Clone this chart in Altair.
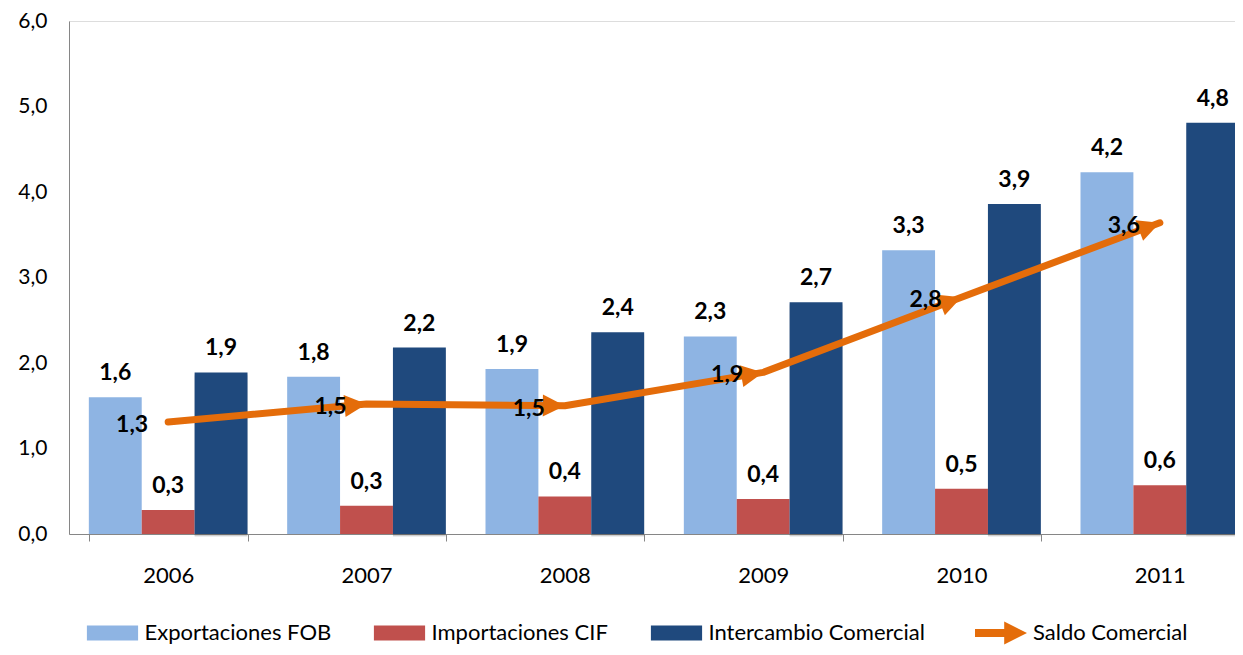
import math
import altair as alt
import pandas as pd

# ---------------- data ----------------
years = ["2006", "2007", "2008", "2009", "2010", "2011"]
exportaciones = [1.60, 1.84, 1.93, 2.31, 3.32, 4.23]
importaciones = [0.28, 0.33, 0.44, 0.41, 0.53, 0.57]
intercambio = [1.89, 2.18, 2.36, 2.71, 3.86, 4.81]
saldo = [1.31, 1.52, 1.50, 1.89, 2.77, 3.64]
bar_series = ["Exportaciones FOB", "Importaciones CIF", "Intercambio Comercial"]
line_series = "Saldo Comercial"
y_ticks = [0, 1, 2, 3, 4, 5, 6]

# ---------------- style ----------------
VIEW_W, H = 1166, 513          # visible plot area (page is clipped on the right)
X_SPAN = 1190                  # full category axis length (runs past the page edge)
PAD = {"left": 61, "top": 13, "right": 0, "bottom": 113}
Y_MAX = 6
FONT = "Lato"
BAR_COLORS = ["#8EB4E3", "#C0504D", "#1F497D"]
ORANGE = "#E46C0A"
AXIS_GRAY = "#868686"
HEAD_PATH = "M-2,-1L0,0L-2,1Z"        # arrow head, tip at the data point
ARROW_PATH = "M-3.25,-0.5L0.4,-0.5L0.4,-1.45L3.25,0L0.4,1.45L0.4,0.5L-3.25,0.5Z"
SWATCH_PATH = "M-3.2,-0.94H3.2V0.94H-3.2Z"
LABEL_EXPR = "replace(format(datum.value, '.1f'), '.', ',')"
LEGEND_Y = 601

bars_df = pd.DataFrame(
    [
        {"year": y, "series": s, "value": v}
        for s, vals in zip(bar_series, [exportaciones, importaciones, intercambio])
        for y, v in zip(years, vals)
    ]
)

step_px = X_SPAN / len(years)
unit_px = H / Y_MAX
angles, heads = [], []
for i, v in enumerate(saldo):
    if i == 0:
        angles.append(0.0)
        heads.append(False)
    else:
        a = math.degrees(math.atan2(-(v - saldo[i - 1]) * unit_px, step_px))
        angles.append((a + 360) % 360)
        heads.append(True)
line_df = pd.DataFrame(
    {"year": years, "value": saldo, "angle": angles, "head": heads,
     "series": [line_series] * len(years)}
)

# ---------------- encodings ----------------
y_enc = alt.Y(
    "value:Q",
    scale=alt.Scale(domain=[0, Y_MAX], nice=False),
    axis=alt.Axis(
        title=None, values=y_ticks, labelExpr=LABEL_EXPR, grid=False, ticks=False,
        domainColor=AXIS_GRAY, domainWidth=1, labelFont=FONT, labelFontSize=21,
        labelColor="#000000", labelPadding=22,
    ),
)
x_band = alt.X(
    "year:N", sort=years,
    scale=alt.Scale(paddingInner=0.2, paddingOuter=0.1, range=[0, X_SPAN]),
    axis=alt.Axis(
        title=None, labelAngle=0, tickBand="extent", tickSize=7, tickColor=AXIS_GRAY,
        domainColor=AXIS_GRAY, labelFont=FONT, labelFontSize=22, labelColor="#000000",
        labelPadding=24,
    ),
)
x_off = alt.XOffset("series:N", scale=alt.Scale(domain=bar_series))

base_bars = alt.Chart(bars_df)
shadow_far = base_bars.mark_bar(color="#000000", opacity=0.07, xOffset=6, yOffset=3).encode(
    x=x_band, xOffset=x_off, y=y_enc
).transform_filter(alt.datum.series == bar_series[2])
shadow_near = base_bars.mark_bar(color="#000000", opacity=0.12, xOffset=3, yOffset=2).encode(
    x=x_band, xOffset=x_off, y=y_enc
).transform_filter(alt.datum.series == bar_series[2])
bars = base_bars.mark_bar().encode(
    x=x_band, xOffset=x_off, y=y_enc,
    color=alt.Color(
        "series:N",
        scale=alt.Scale(domain=bar_series, range=BAR_COLORS),
        legend=alt.Legend(
            title=None, orient="none", legendX=32.5, legendY=LEGEND_Y, direction="horizontal",
            symbolType=SWATCH_PATH, symbolSize=256, symbolStrokeWidth=0,
            labelFont=FONT, labelFontSize=22, labelColor="#000000", labelOffset=21,
            columnPadding=42, padding=0, labelLimit=400,
        ),
    ),
)
bar_labels = base_bars.mark_text(
    font=FONT, fontSize=23, fontWeight="bold", baseline="alphabetic", dy=-17, color="#000000"
).encode(x=x_band, xOffset=x_off, y=y_enc, text="label:N").transform_calculate(label=LABEL_EXPR)

base_line = alt.Chart(line_df)
line = base_line.mark_line(
    color=ORANGE, strokeWidth=7, strokeCap="round", strokeJoin="round"
).encode(x=x_band, y=y_enc)
arrow_heads = base_line.mark_point(
    filled=True, color=ORANGE, size=484, opacity=1, strokeWidth=0, shape=HEAD_PATH
).encode(x=x_band, y=y_enc, angle=alt.Angle("angle:Q", scale=None)).transform_filter("datum.head")
line_labels = base_line.mark_text(
    font=FONT, fontSize=23, fontWeight="bold", align="right", baseline="middle",
    dx=-20, dy=3, color="#000000"
).encode(x=x_band, y=y_enc, text="label:N").transform_calculate(label=LABEL_EXPR)
legend_layer = base_line.mark_point(filled=True, color=ORANGE, opacity=1).encode(
    shape=alt.Shape(
        "series:N",
        scale=alt.Scale(domain=[line_series], range=[ARROW_PATH]),
        legend=alt.Legend(
            title=None, orient="none", legendX=921, legendY=LEGEND_Y, direction="horizontal",
            symbolSize=256, symbolStrokeWidth=0, symbolFillColor=ORANGE,
            labelFont=FONT, labelFontSize=22, labelColor="#000000", labelOffset=21,
            padding=0, labelLimit=400,
        ),
    )
).transform_filter("false")

chart = (
    alt.layer(shadow_far, shadow_near, bars, bar_labels, line, arrow_heads, line_labels, legend_layer)
    .properties(width=VIEW_W, height=H, padding=PAD,
                autosize=alt.AutoSizeParams(type="none"))
    .configure_view(strokeWidth=0, stroke="transparent")
    .configure(font=FONT)
)

chart.save("out.html", embed_options={"renderer": "svg", "actions": False})
